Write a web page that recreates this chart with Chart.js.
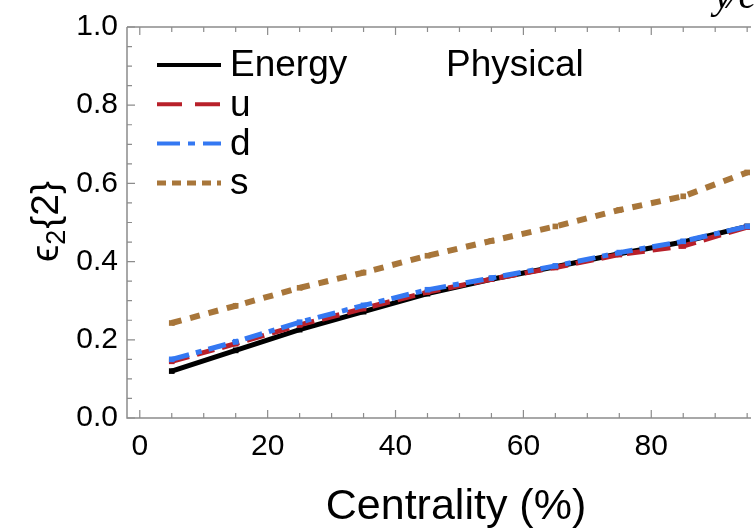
<!DOCTYPE html>
<html lang="en">
<head>
    <meta charset="UTF-8">
    <title>Eccentricity vs centrality</title>
    <script src="https://cdn.jsdelivr.net/npm/chart.js"></script>
    <style>
        body {
            margin: 0;
            background: #ffffff;
        }
        #wrap {
            width: 755px;
            height: 528px;
            position: relative;
        }
    </style>
</head>
<body>
    <div id="wrap">
        <canvas id="chart"></canvas>
    </div>

    <script>
        // values
        const centrality = [5, 15, 25, 35, 45, 55, 65, 75, 85, 95];
        const energy = [0.120, 0.173, 0.226, 0.272, 0.318, 0.355, 0.387, 0.420, 0.450, 0.490];
        const uQuark = [0.145, 0.190, 0.238, 0.280, 0.322, 0.355, 0.385, 0.418, 0.440, 0.488];
        const dQuark = [0.150, 0.195, 0.245, 0.288, 0.328, 0.358, 0.389, 0.423, 0.452, 0.490];
        const sQuark = [0.243, 0.287, 0.333, 0.372, 0.415, 0.453, 0.490, 0.532, 0.567, 0.628];

        const xTicks = [0, 20, 40, 60, 80];
        const yTicks = [0.0, 0.2, 0.4, 0.6, 0.8, 1.0];
        const legendLabels = ["Energy", "u", "d", "s"];

        const FONT = "'Liberation Sans', Arial, sans-serif";
        const colors = ["#000000", "#b8202a", "#3478f2", "#a8763a"];
        const dashes = [[], [18, 8], [18, 7, 6, 7], [10, 9]];
        const widths = [5, 5, 5, 6];
        const legendDashes = [[], [25, 13], [23, 8, 7, 8], [9, 6]];

        function toPoints(ys) {
            return centrality.map((x, i) => ({ x: x, y: ys[i] }));
        }

        const series = [energy, uQuark, dQuark, sQuark];

        // frame, inward ticks, legend and axis titles
        const decorations = {
            id: "decorations",
            beforeDatasetsDraw(chart) {
                const ctx = chart.ctx;
                const a = chart.chartArea;
                const xs = chart.scales.x;
                const ys = chart.scales.y;
                ctx.save();
                ctx.strokeStyle = "#8c8c8c";
                ctx.lineWidth = 1.5;
                ctx.beginPath();
                ctx.moveTo(a.left, a.top);
                ctx.lineTo(a.left, a.bottom);
                ctx.lineTo(a.right, a.bottom);
                ctx.moveTo(a.left, a.top);
                ctx.lineTo(a.right, a.top);
                ctx.stroke();

                ctx.lineWidth = 1.2;
                ctx.beginPath();
                for (let v = 0; v <= 100; v += 5) {
                    const px = xs.getPixelForValue(v);
                    if (px > a.right + 1) continue;
                    const len = v % 20 === 0 ? 8 : 5;
                    ctx.moveTo(px, a.bottom);
                    ctx.lineTo(px, a.bottom - len);
                    ctx.moveTo(px, a.top);
                    ctx.lineTo(px, a.top + len);
                }
                for (let k = 0; k <= 20; k++) {
                    const py = ys.getPixelForValue(k * 0.05);
                    const len = k % 4 === 0 ? 8 : 5;
                    ctx.moveTo(a.left, py);
                    ctx.lineTo(a.left + len, py);
                }
                ctx.stroke();
                ctx.restore();
            },
            afterDraw(chart) {
                const ctx = chart.ctx;
                ctx.save();
                // legend
                ctx.font = "37px " + FONT;
                ctx.textBaseline = "middle";
                ctx.fillStyle = "#000";
                for (let i = 0; i < legendLabels.length; i++) {
                    const y = 65 + i * 39.3;
                    ctx.strokeStyle = colors[i];
                    ctx.lineWidth = i === 3 ? 5 : 4;
                    ctx.setLineDash(legendDashes[i]);
                    ctx.beginPath();
                    ctx.moveTo(157, y);
                    ctx.lineTo(221, y);
                    ctx.stroke();
                    ctx.setLineDash([]);
                    ctx.fillText(legendLabels[i], 230, y + 1);
                }
                ctx.fillText("Physical", 446, 66);

                // x axis title
                ctx.font = "43px " + FONT;
                ctx.textAlign = "center";
                ctx.textBaseline = "alphabetic";
                ctx.fillText("Centrality (%)", 456, 519);

                // y axis title: epsilon_2{2}
                ctx.translate(58, 222);
                ctx.rotate(-Math.PI / 2);
                ctx.textAlign = "left";
                const big = "39px " + FONT;
                const small = "27px " + FONT;
                ctx.font = big;
                const w1 = ctx.measureText("\u03f5").width;
                ctx.font = small;
                const w2 = ctx.measureText("2").width;
                ctx.font = big;
                const w3 = ctx.measureText("{2}").width;
                let x0 = -(w1 + w2 + w3) / 2;
                ctx.fillText("\u03f5", x0, 0);
                ctx.font = small;
                ctx.fillText("2", x0 + w1, 7);
                ctx.font = big;
                ctx.fillText("{2}", x0 + w1 + w2 + 1, 0);
                ctx.restore();

                // cut-off fragment at the top right
                ctx.save();
                ctx.font = "italic 40px 'Liberation Serif', serif";
                ctx.fillStyle = "#000";
                ctx.fillText("y\u2215c", 714, 8);
                ctx.restore();
            }
        };

        new Chart(document.getElementById("chart"), {
            type: "line",
            data: {
                datasets: series.map((ys, i) => ({
                    label: legendLabels[i],
                    data: toPoints(ys),
                    borderColor: colors[i],
                    backgroundColor: colors[i],
                    borderWidth: widths[i],
                    borderDash: dashes[i],
                    pointStyle: "rect",
                    pointRadius: 4,
                    pointBorderWidth: 0,
                    tension: 0,
                    fill: false
                })).reverse()
            },
            options: {
                responsive: true,
                maintainAspectRatio: false,
                animation: false,
                layout: { padding: { top: 25, right: 0, left: 0, bottom: 0 } },
                plugins: {
                    legend: { display: false },
                    tooltip: { enabled: false }
                },
                scales: {
                    x: {
                        type: "linear",
                        min: -2,
                        max: 95.6,
                        grid: { display: false, drawTicks: false },
                        border: { display: false },
                        afterBuildTicks: s => { s.ticks = xTicks.map(v => ({ value: v })); },
                        afterFit: s => { s.height = 110; },
                        ticks: {
                            font: { size: 30, family: FONT },
                            color: "#000",
                            padding: 11,
                            maxRotation: 0,
                            callback: v => String(v)
                        }
                    },
                    y: {
                        min: 0,
                        max: 1,
                        grid: { display: false, drawTicks: false },
                        border: { display: false },
                        afterBuildTicks: s => { s.ticks = yTicks.map(v => ({ value: v })); },
                        afterFit: s => { s.width = 127; },
                        ticks: {
                            font: { size: 30, family: FONT },
                            color: "#000",
                            padding: 9,
                            callback: v => Number(v).toFixed(1)
                        }
                    }
                }
            },
            plugins: [decorations]
        });
    </script>
</body>
</html>
